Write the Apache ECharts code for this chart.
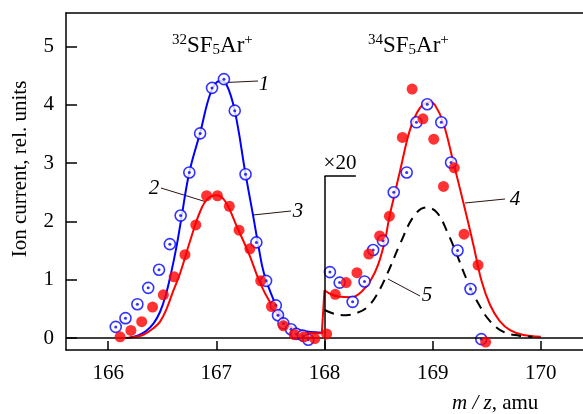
<!DOCTYPE html>
<html>
<head>
<meta charset="utf-8">
<script src="https://cdn.jsdelivr.net/npm/echarts@6/dist/echarts.min.js"></script>
<style>html,body{margin:0;padding:0;background:#fff}#c{width:583px;height:414px}</style>
</head>
<body>
<div id="c"></div>
<script>
// ---- data ----
const xTicks = [166, 167, 168, 169, 170];
const yTicks = [0, 1, 2, 3, 4, 5];

// open blue circles (with centre dot)
const blueCircles = [
  [166.07,0.19],[166.16,0.34],[166.27,0.58],[166.37,0.86],[166.47,1.17],[166.57,1.61],[166.67,2.10],
  [166.75,2.84],[166.85,3.51],[166.96,4.29],[167.07,4.44],[167.17,3.90],[167.27,2.81],[167.37,1.64],
  [167.46,0.98],[167.55,0.56],[167.57,0.39],[167.62,0.25],[167.69,0.15],[167.74,0.07],[167.80,0.04],[167.85,-0.03],
  [168.05,1.13],[168.14,0.95],[168.26,0.62],[168.37,0.97],[168.45,1.51],[168.54,1.67],[168.64,2.50],
  [168.76,2.84],[168.85,3.70],[168.95,4.01],[169.08,3.70],[169.17,3.01],[169.23,1.50],[169.35,0.84],[169.45,-0.02]
];
// filled red points
const redPoints = [
  [166.11,0.02],[166.21,0.13],[166.31,0.28],[166.41,0.53],[166.51,0.74],[166.61,1.05],[166.71,1.43],
  [166.81,1.94],[166.91,2.44],[167.01,2.44],[167.12,2.26],[167.21,1.85],[167.31,1.53],[167.41,0.98],
  [167.51,0.54],[167.62,0.21],[167.72,0.06],[167.81,0.02],[167.91,-0.01],[168.02,0.07],
  [168.10,0.75],[168.20,0.95],[168.30,1.12],[168.41,1.44],[168.51,1.75],[168.60,2.09],[168.72,3.44],
  [168.81,4.27],[168.91,3.76],[169.01,3.41],[169.10,2.60],[169.20,2.92],[169.29,1.78],[169.42,1.25],[169.49,-0.07]
];
// blue curve (left peak)
const blueCurve = [
  [166.20,0.01],[166.27,0.04],[166.35,0.12],[166.42,0.25],[166.48,0.45],[166.53,0.72],[166.58,1.10],
  [166.63,1.55],[166.67,1.98],[166.75,2.84],[166.85,3.52],[166.95,4.22],[167.03,4.41],[167.09,4.36],
  [167.17,3.90],[167.27,2.81],[167.34,2.10],[167.39,1.57],[167.44,1.11],[167.53,0.65],[167.62,0.31],
  [167.71,0.17],[167.84,0.11],[167.99,0.09]
];
// red curve, left part (below the x20 step)
const redCurveLeft = [
  [166.16,0.00],[166.25,0.02],[166.33,0.06],[166.42,0.17],[166.48,0.28],[166.54,0.50],[166.60,0.80],
  [166.665,1.11],[166.76,1.68],[166.85,2.17],[166.92,2.39],[167.00,2.45],[167.08,2.35],[167.19,1.91],
  [167.30,1.45],[167.405,0.94],[167.50,0.60],[167.62,0.28],[167.74,0.14],[167.85,0.09],[167.975,0.08]
];
// the step of the red curve at the x20 switch
const redStep = [[167.975,0.08],[168.00,0.82]];
// red curve, right part (x20)
const redCurveRight = [
  [168.00,0.82],[168.06,0.75],[168.13,0.71],[168.25,0.70],[168.34,0.79],[168.43,1.00],
  [168.50,1.28],[168.56,1.68],[168.60,2.08],[168.65,2.48],[168.70,2.88],[168.79,3.57],[168.88,3.94],
  [168.97,4.05],[169.02,4.00],[169.10,3.68],[169.20,2.95],[169.30,2.20],[169.38,1.57],[169.45,0.99],
  [169.53,0.57],[169.62,0.29],[169.72,0.13],[169.84,0.05],[170.00,0.02]
];
// dashed curve 5
const dashedCurve = [
  [168.00,0.48],[168.10,0.41],[168.20,0.39],[168.30,0.43],[168.39,0.52],[168.48,0.73],[168.58,1.10],
  [168.70,1.62],[168.83,2.10],[168.94,2.24],[169.04,2.15],[169.14,1.80],[169.23,1.40],[169.32,0.98],
  [169.42,0.60],[169.53,0.29],[169.66,0.10],[169.80,0.04],[169.92,0.02]
];
const xMin = 165.61, xMax = 170.39, yMin = -0.206, yMax = 5.575;
const bracketX = [168, 168.29], bracketY = 2.78;

const serif = 'Liberation Serif';
const chart = echarts.init(document.getElementById('c'), null, {renderer: 'canvas'});
const axisLineStyle = {color: '#000', width: 1.5};
const titleRich = {
  s: {fontFamily: serif, fontSize: 15, verticalAlign: 'top', lineHeight: 25},
  m: {fontFamily: serif, fontSize: 23, lineHeight: 25, verticalAlign: 'bottom'},
  b: {fontFamily: serif, fontSize: 15, verticalAlign: 'bottom', lineHeight: 22}
};

const option = {
  animation: false,
  backgroundColor: '#fff',
  grid: {left: 66, right: 0, top: 13, bottom: 64},
  xAxis: [{
    type: 'value', min: xMin, max: xMax,
    axisLine: {show: true, onZero: false, lineStyle: axisLineStyle},
    axisTick: {show: true, inside: true, length: 9, lineStyle: axisLineStyle, customValues: xTicks},
    axisLabel: {customValues: xTicks, fontFamily: serif, fontSize: 21, color: '#000', margin: 13},
    splitLine: {show: false}
  }, {
    type: 'value', position: 'top', min: xMin, max: xMax,
    axisLine: {show: true, onZero: false, lineStyle: axisLineStyle},
    axisTick: {show: false}, axisLabel: {show: false}, splitLine: {show: false}
  }],
  yAxis: {
    type: 'value', min: yMin, max: yMax,
    axisLine: {show: true, onZero: false, lineStyle: axisLineStyle},
    axisTick: {show: true, inside: true, length: 11, lineStyle: axisLineStyle, customValues: yTicks},
    axisLabel: {customValues: yTicks, fontFamily: serif, fontSize: 21, color: '#000', margin: 12},
    splitLine: {show: false}
  },
  series: [
    {
      type: 'line', data: blueCurve, smooth: 0.4, symbol: 'none',
      lineStyle: {color: '#0000ff', width: 2}, z: 2,
      markLine: {
        silent: true, symbol: 'none', label: {show: false},
        lineStyle: {color: '#000', width: 1.5, type: 'solid'},
        data: [
          {yAxis: 0},
          [{coord: [bracketX[0], yMin]}, {coord: [bracketX[0], bracketY]}],
          [{coord: [bracketX[0], bracketY]}, {coord: [bracketX[1], bracketY]}]
        ]
      }
    },
    {type: 'line', data: redCurveLeft, smooth: 0.4, symbol: 'none', lineStyle: {color: '#ff0000', width: 2}, z: 2},
    {type: 'line', data: redStep, smooth: false, symbol: 'none', lineStyle: {color: '#ff0000', width: 2}, z: 2},
    {type: 'line', data: redCurveRight, smooth: 0.35, symbol: 'none', lineStyle: {color: '#ff0000', width: 2}, z: 2},
    {type: 'line', data: dashedCurve, smooth: 0.4, symbol: 'none', lineStyle: {color: '#000', width: 2, type: [10, 7]}, z: 2},
    {type: 'scatter', data: blueCircles, symbol: 'circle', symbolSize: 11,
      itemStyle: {color: '#fff', borderColor: '#0000ff', borderWidth: 1.6}, z: 3},
    {type: 'scatter', data: blueCircles, symbol: 'circle', symbolSize: 3,
      itemStyle: {color: '#0000ff'}, z: 4},
    {type: 'scatter', data: redPoints, symbol: 'circle', symbolSize: 11,
      itemStyle: {color: '#ff0000'}, z: 5}
  ],
  graphic: [
    {type: 'text', x: 20, y: 169, rotation: Math.PI / 2,
      style: {text: 'Ion current, rel. units', font: '21px "Liberation Serif"', fill: '#000', align: 'center', verticalAlign: 'middle'}},
    {type: 'text', x: 452, y: 403,
      style: {text: '{i|m}{n| }{i|/}{n| }{i|z}{n|, amu}', fill: '#000', verticalAlign: 'middle',
        rich: {i: {fontFamily: serif, fontStyle: 'italic', fontSize: 21}, n: {fontFamily: serif, fontSize: 21}}}},
    {type: 'text', x: 172, y: 45,
      style: {text: '{s|32}{m|SF}{b|5}{m|Ar}{s|+}', fill: '#000', verticalAlign: 'middle', rich: titleRich}},
    {type: 'text', x: 368, y: 45,
      style: {text: '{s|34}{m|SF}{b|5}{m|Ar}{s|+}', fill: '#000', verticalAlign: 'middle', rich: titleRich}},
    {type: 'text', x: 340, y: 163,
      style: {text: '×20', font: '21px "Liberation Serif"', fill: '#000', align: 'center', verticalAlign: 'middle'}},
    // numeric labels with leader lines
    {type: 'line', shape: {x1: 226, y1: 82.5, x2: 258, y2: 81}, style: {stroke: '#2a1410', lineWidth: 1}},
    {type: 'text', x: 264, y: 84, style: {text: '1', font: 'italic 21px "Liberation Serif"', fill: '#000', align: 'center', verticalAlign: 'middle'}},
    {type: 'line', shape: {x1: 161, y1: 188, x2: 205, y2: 201.5}, style: {stroke: '#2a1410', lineWidth: 1}},
    {type: 'text', x: 154, y: 188, style: {text: '2', font: 'italic 21px "Liberation Serif"', fill: '#000', align: 'center', verticalAlign: 'middle'}},
    {type: 'line', shape: {x1: 253, y1: 215, x2: 291, y2: 211}, style: {stroke: '#2a1410', lineWidth: 1}},
    {type: 'text', x: 298, y: 211, style: {text: '3', font: 'italic 21px "Liberation Serif"', fill: '#000', align: 'center', verticalAlign: 'middle'}},
    {type: 'line', shape: {x1: 465, y1: 203, x2: 505, y2: 199}, style: {stroke: '#2a1410', lineWidth: 1}},
    {type: 'text', x: 515, y: 199, style: {text: '4', font: 'italic 21px "Liberation Serif"', fill: '#000', align: 'center', verticalAlign: 'middle'}},
    {type: 'line', shape: {x1: 388, y1: 279, x2: 420, y2: 296}, style: {stroke: '#2a1410', lineWidth: 1}},
    {type: 'text', x: 427, y: 295, style: {text: '5', font: 'italic 21px "Liberation Serif"', fill: '#000', align: 'center', verticalAlign: 'middle'}}
  ]
};
chart.setOption(option);
</script>
</body>
</html>
